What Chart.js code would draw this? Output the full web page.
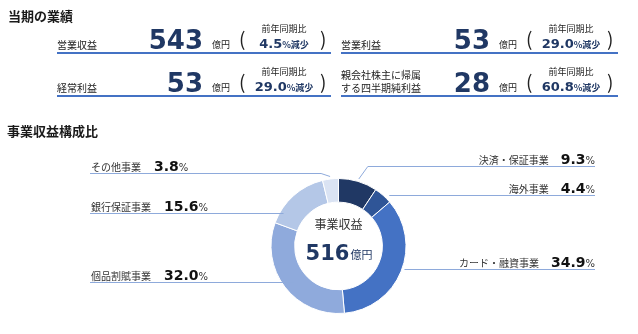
<!DOCTYPE html>
<html lang="ja">
<head>
<meta charset="utf-8">
<script src="https://cdn.jsdelivr.net/npm/chart.js@4.4.1/dist/chart.umd.min.js"></script>
<style>
  html, body { margin: 0; padding: 0; background: #fff; }
  body { width: 638px; height: 334px; position: relative; overflow: hidden; }
  #grafico { position: absolute; left: 0; top: 0; }
  .t { position: absolute; white-space: nowrap; line-height: 1; display: flex; align-items: baseline; }
  .t span { line-height: 1; }
  .linha { position: absolute; height: 2px; background: #4472c4; }
</style>
</head>
<body>
<canvas id="grafico" width="638" height="334"></canvas>
<div id="painel"></div>
<script>
// === DADOS ===
const kpiLabels = ['営業収益', '営業利益', '経常利益', '親会社株主に帰属\nする四半期純利益'];
const kpiValues = [543, 53, 53, 28];
const kpiChanges = ['4.5', '29.0', '29.0', '60.8'];

const segments = ['決済・保証事業', '海外事業', 'カード・融資事業', '個品割賦事業', '銀行保証事業', 'その他事業'];
const shares = [9.3, 4.4, 34.9, 32.0, 15.6, 3.8];
const totalRevenue = 516;

const segmentColors = ['#203864', '#2f5597', '#4472c4', '#8faadc', '#b4c7e7', '#dae3f3'];
const NAVY = '#203864';
const JP = '"Noto Sans CJK JP", "Noto Sans", sans-serif';
const NUM = '"DejaVu Sans", Verdana, sans-serif';

// === PAINEL DE KPIs (HTML) ===
const painel = document.getElementById('painel');
const asc = { jp: 0.936, num: 0.846 };

// coloca um texto com a linha de base em y
function texto(pecas, x, y, align) {
  const div = document.createElement('div');
  div.className = 't';
  let top = 0;
  pecas.forEach(p => {
    const s = document.createElement('span');
    s.textContent = p.t;
    s.style.fontFamily = p.f === 'num' ? NUM : JP;
    s.style.fontSize = p.s + 'px';
    s.style.fontWeight = p.b ? 'bold' : (p.w || 'normal');
    s.style.color = p.c || '#333';
    div.appendChild(s);
    top = Math.max(top, asc[p.f || 'jp'] * p.s);
  });
  div.style.left = x + 'px';
  div.style.top = (y - top) + 'px';
  if (align === 'right') div.style.transform = 'translateX(-100%)';
  if (align === 'center') div.style.transform = 'translateX(-50%)';
  painel.appendChild(div);
}

texto([{ t: '当期の業績', s: 13, b: true, c: '#1a1a1a' }], 8, 21);
texto([{ t: '事業収益構成比', s: 13, b: true, c: '#1a1a1a' }], 7, 136);

const blockLeft = [57, 341, 57, 341];
const numberRight = [203, 490, 203, 490];
const lineY = [53, 53, 96, 96];

kpiLabels.forEach((lab, i) => {
  const L = blockLeft[i], N = numberRight[i], y = lineY[i];
  const partes = lab.split('\n');
  if (partes.length === 1) {
    texto([{ t: lab, s: 10, c: '#222' }], L, y - 4);
  } else {
    texto([{ t: partes[0], s: 10, c: '#222' }], L, y - 17);
    texto([{ t: partes[1], s: 10, c: '#222' }], L, y - 4);
  }
  texto([{ t: String(kpiValues[i]), f: 'num', s: 26, b: true, c: NAVY }], N, y - 4, 'right');
  texto([{ t: '億円', s: 9, c: '#222' }], N + 9, y - 5);
  texto([{ t: '(', s: 19, c: '#222' }], N + 36, y - 7);
  texto([{ t: '前年同期比', s: 9, c: '#222' }], N + 81, y - 21, 'center');
  texto([{ t: kpiChanges[i], f: 'num', s: 13, b: true, c: NAVY }, { t: '%減少', s: 9, b: true, c: NAVY }], N + 81, y - 5, 'center');
  texto([{ t: ')', s: 19, c: '#222' }], N + 117, y - 7);

  const ln = document.createElement('div');
  ln.className = 'linha';
  ln.style.left = L + 'px';
  ln.style.width = (N + 128 - L) + 'px';
  ln.style.top = (y - 1) + 'px';
  painel.appendChild(ln);
});

// === ROTULOS COM LINHAS DE CHAMADA ===
// lado, y da linha, alcance relativo ao raio (null = linha com cotovelo)
const leaderSide = ['right', 'right', 'right', 'left', 'left', 'left'];
const leaderY = [166, 195, 269, 282, 213, 173];
const leaderReach = [null, 1.066, 1.035, 0.853, 0.95, null];
const rightEdge = 595;
const leftEdge = 90;

const chamadas = {
  id: 'chamadas',
  afterDatasetsDraw(chart) {
    const ctx = chart.ctx;
    const arcs = chart.getDatasetMeta(0).data;
    ctx.save();
    arcs.forEach((arc, i) => {
      const p = arc.getProps(['x', 'y', 'startAngle', 'endAngle', 'outerRadius'], true);
      const mid = (p.startAngle + p.endAngle) / 2;
      const ly = leaderY[i];
      const dir = leaderSide[i] === 'right' ? 1 : -1;
      const fim = dir > 0 ? rightEdge : leftEdge;
      const pts = [];
      if (leaderReach[i] === null) {
        const ax = p.x + (p.outerRadius + 3) * Math.cos(mid);
        const ay = p.y + (p.outerRadius + 3) * Math.sin(mid);
        pts.push([ax, ay], [ax + dir * 9, ly], [fim, ly]);
      } else {
        const rr = leaderReach[i] * p.outerRadius;
        const dy = ly - p.y;
        const dx = Math.sqrt(Math.max(rr * rr - dy * dy, 0));
        pts.push([p.x + dir * dx, ly], [fim, ly]);
      }
      ctx.strokeStyle = '#8eaadb';
      ctx.lineWidth = 1;
      ctx.beginPath();
      pts.forEach((q, k) => k ? ctx.lineTo(q[0], q[1] + 0.5) : ctx.moveTo(q[0], q[1] + 0.5));
      ctx.stroke();

      // textos
      const nome = segments[i];
      const valor = shares[i].toFixed(1);
      const by = ly - 2;
      ctx.textBaseline = 'alphabetic';
      ctx.font = '10px ' + JP;
      const wNome = ctx.measureText(nome).width;
      ctx.font = 'bold 14px ' + NUM;
      const wVal = ctx.measureText(valor).width;
      ctx.font = '10px ' + NUM;
      const wPct = ctx.measureText('%').width;
      let xNome, xVal, xPct;
      if (dir > 0) {
        xPct = rightEdge - wPct;
        xVal = xPct - wVal;
        xNome = xVal - 12 - wNome;
      } else {
        xNome = leftEdge + 1;
        xVal = xNome + wNome + 13;
        xPct = xVal + wVal;
      }
      ctx.textAlign = 'left';
      ctx.fillStyle = '#333';
      ctx.font = '10px ' + JP;
      ctx.fillText(nome, xNome, by);
      ctx.fillStyle = '#111';
      ctx.font = 'bold 14px ' + NUM;
      ctx.fillText(valor, xVal, by);
      ctx.fillStyle = '#333';
      ctx.font = '10px ' + NUM;
      ctx.fillText('%', xPct, by);
    });
    ctx.restore();
  }
};

// === TEXTO CENTRAL ===
const centro = {
  id: 'centro',
  afterDatasetsDraw(chart) {
    const ctx = chart.ctx;
    const a = chart.getDatasetMeta(0).data[0];
    const cx = a.x, cy = a.y;
    ctx.save();
    ctx.textBaseline = 'alphabetic';
    ctx.textAlign = 'center';
    ctx.fillStyle = '#333';
    ctx.font = '12px ' + JP;
    ctx.fillText('事業収益', cx, cy - 17);
    ctx.font = 'bold 21px ' + NUM;
    const w1 = ctx.measureText(String(totalRevenue)).width;
    ctx.font = '11px ' + JP;
    const w2 = ctx.measureText('億円').width;
    const x0 = cx - (w1 + w2) / 2;
    ctx.textAlign = 'left';
    ctx.fillStyle = NAVY;
    ctx.font = 'bold 21px ' + NUM;
    ctx.fillText(String(totalRevenue), x0, cy + 14);
    ctx.font = '11px ' + JP;
    ctx.fillText('億円', x0 + w1 + 1, cy + 13);
    ctx.restore();
  }
};

// === GRAFICO ROSCA ===
const ctxRosca = document.getElementById('grafico').getContext('2d');
new Chart(ctxRosca, {
  type: 'doughnut',
  data: {
    labels: segments,
    datasets: [{
      data: shares,
      backgroundColor: segmentColors,
      borderColor: '#ffffff',
      borderWidth: 1
    }]
  },
  options: {
    responsive: false,
    animation: false,
    cutout: '65%',
    layout: { padding: { left: 270, right: 231, top: 178, bottom: 20 } },
    plugins: {
      legend: { display: false },
      tooltip: { enabled: false }
    }
  },
  plugins: [chamadas, centro]
});
</script>
</body>
</html>
